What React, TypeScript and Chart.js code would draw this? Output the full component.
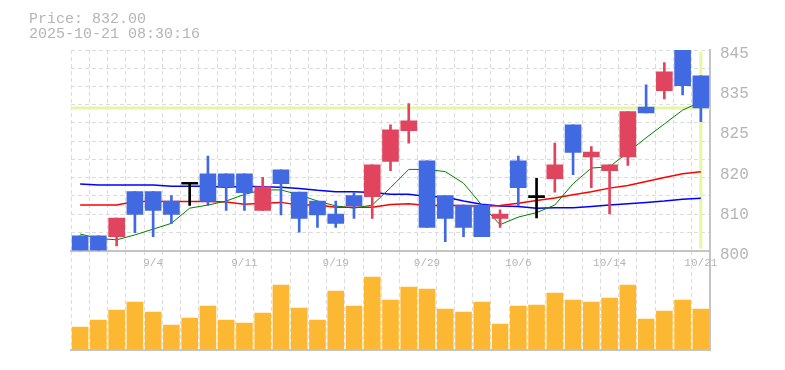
import React, { useEffect, useRef } from 'react';
import { Chart, registerables } from 'chart.js';

Chart.register(...registerables);

// ---- data ----
const dates = [
  '8/29', '9/1', '9/2', '9/3', '9/4', '9/5', '9/8', '9/9', '9/10', '9/11',
  '9/12', '9/16', '9/17', '9/18', '9/19', '9/22', '9/24', '9/25', '9/26', '9/29',
  '9/30', '10/1', '10/2', '10/3', '10/6', '10/7', '10/8', '10/9', '10/10', '10/14',
  '10/15', '10/16', '10/17', '10/20', '10/21',
];
const xTickLabels = ['9/4', '9/11', '9/19', '9/29', '10/6', '10/14', '10/21'];

const openPrices = [
  803.3, 803.3, 803.1, 813.2, 813.2, 811.1, 815.1, 817.2, 817.2, 817.2,
  809.0, 818.1, 813.1, 811.1, 808.2, 812.3, 812.1, 820.0, 826.9, 820.1,
  812.3, 810.2, 810.2, 807.2, 820.1, 812.1, 816.1, 828.2, 821.0, 817.9,
  821.0, 832.2, 835.9, 845.0, 839.2,
];
const highPrices = [
  803.3, 803.3, 807.3, 813.2, 813.2, 812.3, 815.1, 821.2, 817.2, 817.2,
  816.4, 818.1, 813.1, 811.1, 811.1, 813.1, 819.2, 828.2, 833.0, 820.1,
  812.3, 810.2, 810.2, 809.1, 821.2, 816.2, 824.1, 828.2, 823.3, 819.2,
  831.2, 837.2, 842.2, 845.0, 839.2,
];
const lowPrices = [
  800.0, 800.0, 801.0, 804.0, 803.1, 806.1, 810.1, 810.1, 809.0, 809.0,
  809.0, 808.0, 804.1, 805.2, 805.2, 807.2, 807.2, 817.9, 824.1, 805.2,
  802.0, 803.1, 803.1, 805.2, 810.1, 807.3, 813.1, 817.0, 814.1, 808.2,
  819.1, 830.9, 834.0, 834.9, 828.9,
];
const closePrices = [
  800.0, 800.0, 807.3, 808.1, 809.0, 808.1, 815.1, 811.0, 814.2, 813.0,
  814.3, 815.0, 807.2, 808.0, 806.1, 810.0, 819.2, 827.1, 829.1, 805.2,
  807.2, 805.2, 803.1, 808.2, 814.1, 812.1, 819.2, 822.0, 822.1, 819.2,
  831.2, 830.9, 840.1, 837.0, 832.0,
];
const maShort = [
  803.7, 802.7, 802.4, 803.5, 804.8, 806.1, 809.5, 810.2, 811.1, 812.6,
  813.6, 813.6, 812.5, 811.1, 810.0, 809.5, 810.2, 814.1, 818.2, 818.2,
  817.7, 815.1, 810.2, 805.8, 807.5, 808.5, 810.2, 815.0, 818.5, 818.8,
  822.0, 825.3, 828.4, 831.5, 833.4,
];
const maMid = [
  810.2, 810.2, 810.2, 811.0, 811.0, 811.0, 811.0, 811.0, 810.9, 810.4,
  810.6, 810.8, 810.2, 810.2, 809.7, 809.7, 809.7, 810.3, 810.5, 810.1,
  810.1, 810.1, 809.9, 810.1, 810.6, 811.2, 811.8, 812.5, 813.2, 814.0,
  814.6, 815.5, 816.4, 817.2, 817.7,
];
const maLong = [
  814.9, 814.7, 814.7, 814.7, 814.7, 814.4, 814.4, 814.4, 814.2, 814.4,
  814.3, 814.2, 813.9, 813.5, 813.2, 813.2, 813.0, 812.6, 812.6, 812.1,
  812.0, 811.1, 810.4, 810.0, 809.9, 809.5, 809.6, 809.6, 809.9, 810.2,
  810.5, 810.8, 811.1, 811.5, 811.7,
];
const volumes = [
  22500, 29500, 39500, 47500, 37500, 24500, 31500, 43500, 29500, 26500,
  36500, 64500, 41500, 29500, 58500, 43500, 72500, 49500, 62500, 60500,
  40500, 37500, 47500, 25500, 43500, 44500, 56500, 49500, 47500, 51500,
  64500, 30500, 38500, 49500, 40500,
];
const priceTicks = [800, 809, 818, 827, 836, 845];
const priceTickLabels = ['800', '810', '820', '825', '835', '845'];
const currentPrice = 832.0;
const timestamp = '2025-10-21 08:30:16';

// ---- styles ----
const FONT = "'Liberation Mono', 'DejaVu Sans Mono', monospace";
const TEXT = '#b5b5b5';
const GRID = '#dcdcdc';
const AXIS = '#c4c4c4';
const UP = '#e0445e';
const DOWN = '#4169e1';
const FLAT = '#000000';
const MARK = '#e6f5a6';

const candleColors = dates.map((_, i) =>
  closePrices[i] > openPrices[i] ? UP : closePrices[i] < openPrices[i] ? DOWN : FLAT
);
const bodies = dates.map((_, i) =>
  openPrices[i] === closePrices[i]
    ? [openPrices[i] - 0.22, openPrices[i] + 0.22]
    : [openPrices[i], closePrices[i]]
);
const wicks = dates.map((_, i) => [lowPrices[i], highPrices[i]]);

const markerPlugin = {
  id: 'marker',
  beforeDatasetsDraw(chart: any) {
    const { ctx, chartArea, scales } = chart;
    const y = scales.y.getPixelForValue(currentPrice);
    const x = scales.x.getPixelForValue(dates.length - 1);
    ctx.save();
    ctx.strokeStyle = MARK;
    ctx.lineWidth = 3;
    ctx.beginPath();
    ctx.moveTo(chartArea.left, y);
    ctx.lineTo(chartArea.right, y);
    ctx.stroke();
    ctx.beginPath();
    ctx.moveTo(x, chartArea.top + 2);
    ctx.lineTo(x, chartArea.bottom - 2);
    ctx.stroke();
    ctx.restore();
  },
};

export default function App() {
  const priceRef = useRef<HTMLCanvasElement>(null);
  const volRef = useRef<HTMLCanvasElement>(null);

  useEffect(() => {
    const priceChart = new Chart(priceRef.current as HTMLCanvasElement, {
      type: 'bar',
      data: {
        labels: dates,
        datasets: [
          {
            type: 'bar',
            label: 'body',
            data: bodies as any,
            backgroundColor: candleColors,
            barThickness: 16,
            grouped: false,
            yAxisID: 'y',
          } as any,
          {
            type: 'bar',
            label: 'wick',
            data: wicks as any,
            backgroundColor: candleColors,
            barThickness: 2,
            grouped: false,
            yAxisID: 'y',
          } as any,
          {
            type: 'line',
            label: 'MA short',
            data: maShort,
            borderColor: '#008000',
            borderWidth: 1,
            pointRadius: 0,
            tension: 0,
            yAxisID: 'y',
          },
          {
            type: 'line',
            label: 'MA mid',
            data: maMid,
            borderColor: '#ff0000',
            borderWidth: 1.5,
            pointRadius: 0,
            tension: 0,
            yAxisID: 'y',
          },
          {
            type: 'line',
            label: 'MA long',
            data: maLong,
            borderColor: '#0000ff',
            borderWidth: 1.5,
            pointRadius: 0,
            tension: 0,
            yAxisID: 'y',
          },
        ],
      },
      options: {
        responsive: false,
        animation: false,
        events: [],
        layout: { padding: { left: 71, top: 50, right: 0, bottom: 99.5 } },
        plugins: { legend: { display: false }, tooltip: { enabled: false } },
        scales: {
          x: {
            type: 'category',
            offset: true,
            grid: { offset: true, color: GRID, lineWidth: 1, drawTicks: false },
            border: { display: true, color: AXIS, width: 2, dash: [4, 3] },
            ticks: {
              autoSkip: false,
              maxRotation: 0,
              padding: 6,
              color: TEXT,
              font: { family: FONT, size: 11 },
              callback: (_v: any, i: number) => (xTickLabels.includes(dates[i]) ? dates[i] : ''),
            },
            afterFit: (s: any) => {
              s.height = 20;
            },
          },
          y: {
            type: 'linear',
            position: 'right',
            min: 800,
            max: 845,
            grid: { display: false, drawTicks: false },
            border: { display: true, color: AXIS, width: 2 },
            afterBuildTicks: (s: any) => {
              s.ticks = priceTicks.map((v) => ({ value: v }));
            },
            ticks: {
              padding: 10,
              labelOffset: 4,
              color: TEXT,
              font: { family: FONT, size: 16 },
              callback: (v: any) => {
                const k = priceTicks.indexOf(Number(v));
                return k >= 0 ? priceTickLabels[k] : '';
              },
            },
            afterFit: (s: any) => {
              s.width = 75;
            },
          },
          g: {
            type: 'linear',
            position: 'left',
            min: 0,
            max: 11,
            grid: { color: GRID, lineWidth: 1, drawTicks: false },
            border: { display: false, dash: [4, 3] },
            ticks: { display: false, stepSize: 1 },
            afterFit: (s: any) => {
              s.width = 0;
            },
          },
        },
      } as any,
      plugins: [markerPlugin],
    });

    const volChart = new Chart(volRef.current as HTMLCanvasElement, {
      type: 'bar',
      data: {
        labels: dates,
        datasets: [
          {
            label: 'volume',
            data: volumes,
            backgroundColor: '#fdb833',
            barThickness: 16,
          },
        ],
      },
      options: {
        responsive: false,
        animation: false,
        events: [],
        layout: { padding: { left: 71, top: 251, right: 0, bottom: 20.5 } },
        plugins: { legend: { display: false }, tooltip: { enabled: false } },
        scales: {
          x: {
            offset: true,
            grid: { offset: true, color: GRID, lineWidth: 1, drawTicks: false },
            border: { display: true, color: AXIS, width: 2, dash: [4, 3] },
            ticks: { display: false },
            afterFit: (s: any) => {
              s.height = 0;
            },
          },
          y: {
            position: 'right',
            min: 0,
            max: 98500,
            grid: { display: false, drawTicks: false },
            border: { display: true, color: AXIS, width: 2 },
            ticks: { display: false },
            afterFit: (s: any) => {
              s.width = 75;
            },
          },
        },
      } as any,
    });

    return () => {
      priceChart.destroy();
      volChart.destroy();
    };
  }, []);

  return (
    <div style={{ position: 'absolute', left: 0, top: 0, width: 785, height: 370, background: '#fff' }}>
      <canvas ref={volRef} width={785} height={370} style={{ position: 'absolute', left: 0, top: 0 }} />
      <canvas ref={priceRef} width={785} height={370} style={{ position: 'absolute', left: 0, top: 0 }} />
      <div
        style={{
          position: 'absolute',
          left: 29,
          top: 11.5,
          font: `15px/15px ${FONT}`,
          color: TEXT,
          whiteSpace: 'pre',
        }}
      >
        {`Price: ${currentPrice.toFixed(2)}`}
        <br />
        {timestamp}
      </div>
    </div>
  );
}
